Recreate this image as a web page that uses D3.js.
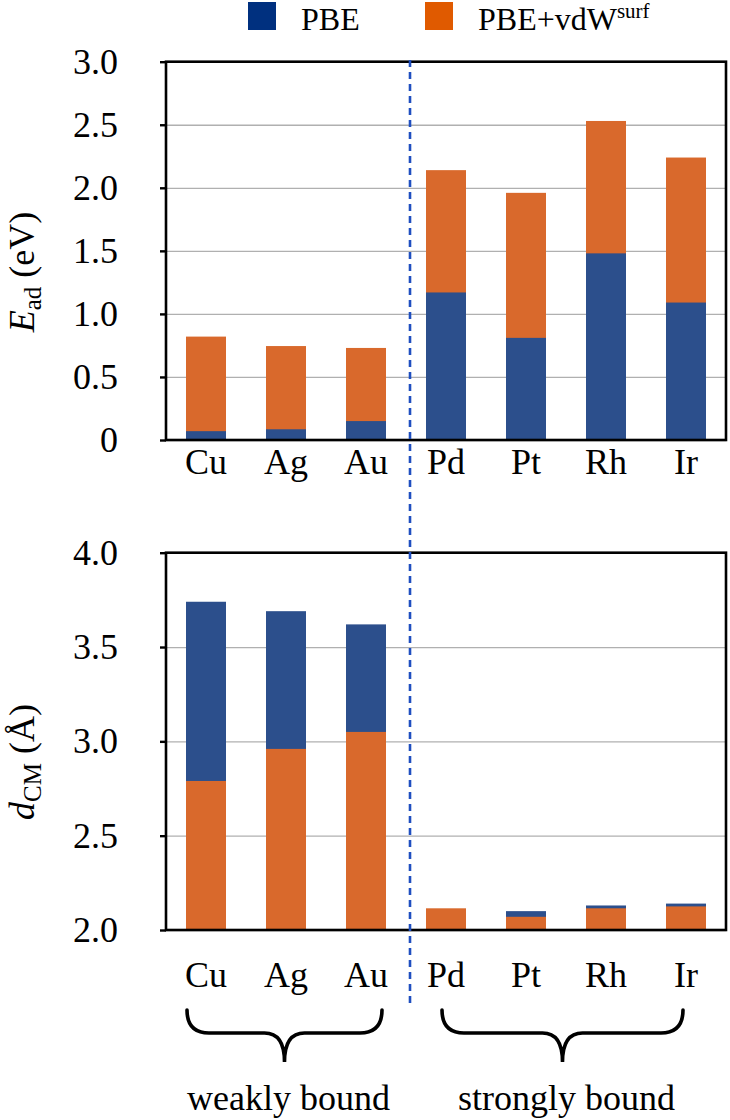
<!DOCTYPE html>
<html>
<head>
<meta charset="utf-8">
<script src="https://cdn.jsdelivr.net/npm/d3@7"></script>
<style>
html,body{margin:0;padding:0;background:#fff;}
svg{display:block;}
text{font-family:"Liberation Serif","Times New Roman",serif;fill:#000;}
</style>
</head>
<body>
<svg id="chart" width="730" height="1120"></svg>
<script>
// ---- data ----
const categories = ["Cu","Ag","Au","Pd","Pt","Rh","Ir"];
const eadPBE     = [0.07, 0.085, 0.15, 1.17, 0.81, 1.48, 1.09];
const eadVdW     = [0.82, 0.745, 0.73, 2.14, 1.96, 2.53, 2.24];
const dcmPBE     = [3.74, 3.69, 3.62, 2.11, 2.10, 2.13, 2.14];
const dcmVdW     = [2.79, 2.96, 3.05, 2.115, 2.07, 2.115, 2.125];
const eadTicks   = [0, 0.5, 1.0, 1.5, 2.0, 2.5, 3.0];
const eadTickLabels = ["0","0.5","1.0","1.5","2.0","2.5","3.0"];
const dcmTicks   = [2.0, 2.5, 3.0, 3.5, 4.0];
const dcmTickLabels = ["2.0","2.5","3.0","3.5","4.0"];
const seriesNames = ["PBE","PBE+vdW"];
const groups = [
  {label:"weakly bound", members:["Cu","Ag","Au"]},
  {label:"strongly bound", members:["Pd","Pt","Rh","Ir"]}
];

// ---- style / layout ----
const COL_PBE = "#2c4f8c", COL_VDW = "#d9692c";
const LEG_PBE = "#00307f", LEG_VDW = "#e05a00";
const left = 166, right = 726;
const svg = d3.select("#chart");

const x = d3.scaleBand().domain(categories).range([left, right]).paddingInner(0.5).paddingOuter(0.25);

function panel(cfg){
  const y = d3.scaleLinear().domain(cfg.domain).range([cfg.bottom, cfg.top]);
  const g = svg.append("g");
  // gridlines
  g.append("g").attr("transform",`translate(${left},0)`)
    .call(d3.axisLeft(y).tickValues(cfg.ticks).tickSize(-(right-left)).tickFormat(""))
    .call(s=>{s.select(".domain").remove();
      s.selectAll(".tick line").attr("stroke","#b0b0b0").attr("stroke-width",1.3);});
  // bars: back series then front series
  const back = cfg.back, front = cfg.front;
  g.selectAll(".b").data(categories).join("rect")
    .attr("x",d=>x(d)).attr("width",x.bandwidth())
    .attr("y",(d,i)=>y(back.values[i])).attr("height",(d,i)=>y(cfg.domain[0])-y(back.values[i]))
    .attr("fill",back.color);
  g.selectAll(".f").data(categories).join("rect")
    .attr("x",d=>x(d)).attr("width",x.bandwidth())
    .attr("y",(d,i)=>y(front.values[i])).attr("height",(d,i)=>y(cfg.domain[0])-y(front.values[i]))
    .attr("fill",front.color);
  // frame
  g.append("rect").attr("x",left).attr("y",cfg.top).attr("width",right-left).attr("height",cfg.bottom-cfg.top)
    .attr("fill","none").attr("stroke","#000").attr("stroke-width",2.6);
  // y axis with ticks and labels
  g.append("g").attr("transform",`translate(${left},0)`)
    .call(d3.axisLeft(y).tickValues(cfg.ticks).tickSize(6).tickPadding(42)
      .tickFormat((d,i)=>cfg.tickLabels[i]))
    .call(s=>{s.select(".domain").remove();
      s.selectAll(".tick line").attr("stroke","#000").attr("stroke-width",2.4);
      s.selectAll(".tick text").attr("font-family","Liberation Serif").attr("font-size",36).attr("fill","#000");});
  // category labels
  g.selectAll(".cat").data(categories).join("text")
    .attr("x",d=>x(d)+x.bandwidth()/2).attr("y",cfg.catY)
    .attr("text-anchor","middle").attr("font-size",36).text(d=>d);
  // y title
  const t = g.append("text").attr("transform",`translate(34,${cfg.titleY}) rotate(-90)`)
    .attr("text-anchor","middle").attr("font-size",36);
  t.append("tspan").attr("font-style","italic").text(cfg.title[0]);
  t.append("tspan").attr("font-size",25).attr("dy",7).text(cfg.title[1]);
  t.append("tspan").attr("dy",-7).text(" "+cfg.title[2]);
  return y;
}

panel({domain:[0,3], top:61.7, bottom:440, ticks:eadTicks, tickLabels:eadTickLabels,
  back:{values:eadVdW,color:COL_VDW}, front:{values:eadPBE,color:COL_PBE},
  catY:474, titleY:272, title:["E","ad","(eV)"]});
panel({domain:[2,4], top:552.7, bottom:930, ticks:dcmTicks, tickLabels:dcmTickLabels,
  back:{values:dcmPBE,color:COL_PBE}, front:{values:dcmVdW,color:COL_VDW},
  catY:987, titleY:762, title:["d","CM","(Å)"]});

// dashed separator between groups
const sepX = (x("Au")+x.bandwidth() + x("Pd"))/2 + 4;
svg.append("line").attr("x1",sepX).attr("x2",sepX).attr("y1",60).attr("y2",1003)
  .attr("stroke","#1f4fc0").attr("stroke-width",2.6).attr("stroke-dasharray","7,5");

// legend
const legend = svg.append("g");
const legItems = [{name:seriesNames[0],color:LEG_PBE,x:248},{name:seriesNames[1],color:LEG_VDW,x:425}];
legItems.forEach((it,i)=>{
  legend.append("rect").attr("x",it.x).attr("y",2).attr("width",28).attr("height",28).attr("fill",it.color);
  const t = legend.append("text").attr("x",it.x+53).attr("y",30).attr("font-size",32).text(it.name);
  if(i===1) t.append("tspan").attr("font-size",21).attr("dy",-12).text("surf");
});

// braces
const braceTopY = 1010, braceMidY = 1033, braceTipY = 1062;
const braceInset = [[1,4],[16,23]];
groups.forEach((gr,gi)=>{
  const x0 = x(gr.members[0]) + braceInset[gi][0];
  const x1 = x(gr.members[gr.members.length-1]) + x.bandwidth() - braceInset[gi][1];
  const xm = (x0+x1)/2;
  const r = 22;
  const p = `M${x0},${braceTopY} Q${x0},${braceMidY} ${x0+r},${braceMidY} L${xm-20},${braceMidY}
    Q${xm},${braceMidY} ${xm},${braceTipY} Q${xm},${braceMidY} ${xm+20},${braceMidY}
    L${x1-r},${braceMidY} Q${x1},${braceMidY} ${x1},${braceTopY}`;
  svg.append("path").attr("d",p).attr("fill","none").attr("stroke","#000").attr("stroke-width",3.6)
    .attr("stroke-linecap","round");
  svg.append("text").attr("x",xm+4).attr("y",1110).attr("text-anchor","middle").attr("font-size",36).text(gr.label);
});
</script>
</body>
</html>
